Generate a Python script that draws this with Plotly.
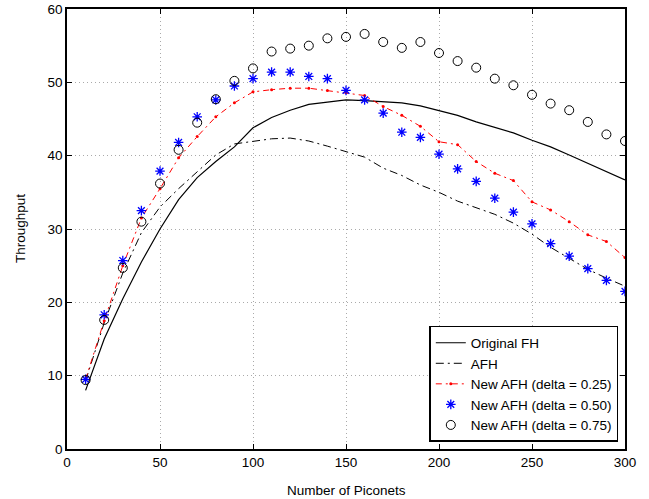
import plotly.graph_objects as go

# number of piconets
piconets = list(range(10, 301, 10))

original_fh = [8.0, 15.0, 20.5, 25.5, 30.0, 34.0, 37.0, 39.2, 41.2, 43.8,
               45.2, 46.2, 47.0, 47.3, 47.6, 47.5, 47.3, 47.2, 46.8, 46.2,
               45.5, 44.6, 43.9, 43.1, 42.1, 41.2, 40.1, 39.0, 37.8, 36.7]
afh = [9.3, 17.2, 24.0, 29.5, 33.0, 35.5, 37.8, 40.1, 41.6, 42.0,
       42.3, 42.4, 42.0, 41.3, 40.5, 39.8, 38.3, 37.3, 36.0, 35.0,
       33.8, 32.9, 32.0, 30.8, 29.3, 27.5, 26.0, 24.5, 23.3, 22.2]
new_afh_025 = [9.5, 17.5, 25.0, 31.5, 35.5, 39.7, 42.6, 45.3, 47.2, 48.7,
               49.0, 49.2, 49.2, 48.9, 48.6, 48.2, 46.7, 45.5, 44.0, 41.9,
               41.5, 39.2, 37.6, 36.6, 33.7, 32.6, 31.0, 29.2, 28.3, 26.1]
new_afh_050 = [9.5, 18.3, 25.7, 32.5, 37.9, 41.8, 45.3, 47.6, 49.5, 50.5,
               51.4, 51.4, 50.8, 50.5, 48.9, 47.6, 45.8, 43.2, 42.5, 40.2,
               38.2, 36.5, 34.2, 32.3, 30.7, 28.0, 26.3, 24.6, 23.0, 21.5]
new_afh_075 = [9.4, 17.6, 24.7, 31.0, 36.2, 40.8, 44.5, 47.7, 50.2, 51.9,
               54.2, 54.6, 55.0, 56.0, 56.2, 56.6, 55.5, 54.7, 55.5, 54.0,
               52.9, 52.0, 50.5, 49.6, 48.3, 47.1, 46.2, 44.6, 42.9, 42.0]

font = "Liberation Sans, Arial, Helvetica, sans-serif"

fig = go.Figure()
fig.add_trace(go.Scatter(x=piconets, y=original_fh, mode="lines", name="Original FH",
                         line=dict(color="black", width=1.2)))
fig.add_trace(go.Scatter(x=piconets, y=afh, mode="lines", name="AFH",
                         line=dict(color="black", width=1, dash="8px,4px,2px,4px")))
fig.add_trace(go.Scatter(x=piconets, y=new_afh_025, mode="lines+markers", name="New AFH (delta = 0.25)",
                         line=dict(color="red", width=1, dash="6px,4px,2px,4px"),
                         marker=dict(color="red", size=3)))
fig.add_trace(go.Scatter(x=piconets, y=new_afh_050, mode="markers", name="New AFH (delta = 0.50)",
                         marker=dict(symbol="asterisk-open", color="blue", size=8,
                                     line=dict(color="blue", width=1.3))))
fig.add_trace(go.Scatter(x=piconets, y=new_afh_075, mode="markers", name="New AFH (delta = 0.75)",
                         marker=dict(symbol="circle-open", color="black", size=9,
                                     line=dict(color="black", width=1))))

axis_style = dict(showline=True, linecolor="black", linewidth=1.5, mirror="ticks",
                  ticks="inside", ticklen=5, tickcolor="black", automargin=False,
                  showgrid=True, gridcolor="#aaaaaa", griddash="1px,3px", gridwidth=1,
                  zeroline=False, tickfont=dict(family=font, size=13.5, color="black"))

fig.update_xaxes(range=[0, 300], tickvals=[0, 50, 100, 150, 200, 250, 300], **axis_style)
fig.update_yaxes(range=[0, 60], tickvals=[0, 10, 20, 30, 40, 50, 60], **axis_style)

# axis titles as annotations so they sit where the original puts them
fig.add_annotation(text="Number of Piconets", xref="paper", yref="paper", x=0.5, y=0,
                   xanchor="center", yanchor="middle", yshift=-41, showarrow=False,
                   font=dict(family=font, size=13.5, color="black"))
fig.add_annotation(text="Throughput", xref="paper", yref="paper", x=0, y=0.5,
                   xanchor="center", yanchor="middle", xshift=-47, textangle=-90,
                   showarrow=False, font=dict(family=font, size=13.5, color="black"))

fig.update_layout(
    width=649, height=499,
    margin=dict(l=67, r=24, t=9, b=50),
    plot_bgcolor="white", paper_bgcolor="white",
    font=dict(family=font, size=13, color="black"),
    legend=dict(x=0.988, y=0.016, xanchor="right", yanchor="bottom",
                bgcolor="white", bordercolor="black", borderwidth=1.5,
                font=dict(family=font, size=13.5, color="black"),
                tracegroupgap=0, itemwidth=30),
)

# drop the page's default 8px body margin so the figure fills the window
fig.write_html("out.html", config={"displayModeBar": False},
               post_script="document.body.style.margin = '0';")
